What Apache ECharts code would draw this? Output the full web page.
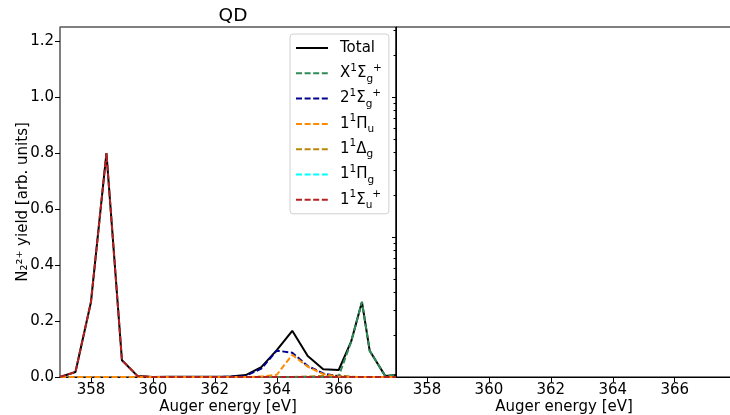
<!DOCTYPE html>
<html><head><meta charset="utf-8">
<script src="https://cdn.jsdelivr.net/npm/echarts@6/dist/echarts.min.js"></script>
<style>html,body{margin:0;padding:0;background:#fff}#c{width:730px;height:415px}</style>
</head><body><div id="c"></div>
<script>
const energies = [357.0,357.5,358.0,358.5,359.0,359.5,360.0,360.5,361.0,361.5,362.0,362.5,363.0,363.5,364.0,364.5,365.0,365.5,366.0,366.4,366.75,367.0,367.5,367.85];
const total   = [0,0.018,0.268,0.800,0.060,0.004,0,0.001,0.001,0.001,0.001,0.002,0.007,0.035,0.096,0.165,0.075,0.028,0.025,0.126,0.268,0.094,0.004,0.007];
const xSg     = [0,0,0,0,0,0,0,0,0,0,0,0,0,0,0,0,0,0,0.003,0.125,0.268,0.094,0.004,0.006];
const twoSg   = [0,0,0,0,0,0,0,0,0,0,0,0.001,0.004,0.030,0.094,0.087,0.039,0.013,0.002,0,0,0,0,0];
const oneProu = [0,0,0,0,0,0,0,0,0,0,0,0,0,0.002,0.008,0.079,0.037,0.010,0.002,0,0,0,0,0];
const oneDg   = [0,0,0,0,0,0,0,0,0,0,0,0,0,0,0,0,0.002,0.004,0.005,0.001,0,0,0,0];
const onePig  = [0,0,0,0,0,0,0,0,0,0,0,0,0,0,0,0,0,0.001,0.002,0,0,0,0,0];
const oneSu   = [0,0.018,0.268,0.800,0.060,0.004,0,0,0,0,0,0,0,0,0,0,0,0,0,0,0,0,0,0];
const xTicks = [358,360,362,364,366];
const yTicks = [0,0.2,0.4,0.6,0.8,1.0,1.2];
const logMajorTicks = [0.1,1];
const logMinorTicks = [0.02,0.03,0.04,0.05,0.06,0.07,0.08,0.09,0.2,0.3,0.4,0.5,0.6,0.7,0.8,0.9,2,3];
const seriesNames = ['Total','X1Sg+','21Sg+','11Pu','11Dg','11Pg','11Su+'];
const seriesLabels = [
  '{n|Total}',
  '{n|X}{sup|1}{n|Σ}{sub|g}{sup|+}',
  '{n|2}{sup|1}{n|Σ}{sub|g}{sup|+}',
  '{n|1}{sup|1}{n|Π}{sub|u}',
  '{n|1}{sup|1}{n|Δ}{sub|g}',
  '{n|1}{sup|1}{n|Π}{sub|g}',
  '{n|1}{sup|1}{n|Σ}{sub|u}{sup|+}'
];
const seriesValues = [total,xSg,twoSg,oneProu,oneDg,onePig,oneSu];
const seriesColors = ['#000000','#2e8b57','#00008b','#ff8c00','#b8860b','#00ffff','#b22222'];
const seriesZ = [2,6,7,8,5,4,9];

const FONT = 'DejaVu Sans';
const FS = 15;
const labelMap = {};
seriesNames.forEach((n,i)=>labelMap[n]=seriesLabels[i]);

const series = seriesNames.map((n,i)=>({
  name:n, type:'line', xAxisIndex:0, yAxisIndex:0,
  data: energies.map((e,j)=>[e, seriesValues[i][j]]),
  showSymbol:false, symbol:'none', animation:false, z: seriesZ[i],
  lineStyle:{color:seriesColors[i], width:2, type: i===0?'solid':[6,2.6]},
  itemStyle:{color:seriesColors[i]}
}));

const tickFmt = v=>v.toFixed(1);
const xAxisCommon = (gi)=>({
  type:'value', gridIndex:gi, min:357, max:367.85, splitLine:{show:false},
  axisLine:{show:true,onZero:false,lineStyle:{color:'#000',width:1}},
  axisTick:{show:true,length:5,lineStyle:{color:'#000'},customValues:xTicks},
  axisLabel:{color:'#000',fontSize:FS,fontFamily:FONT,margin:6,customValues:xTicks,formatter:v=>String(v)},
  name:'Auger energy [eV]', nameLocation:'middle', nameGap:23, nameMoveOverlap:false,
  nameTextStyle:{color:'#000',fontSize:FS,fontFamily:FONT}
});
const chart = echarts.init(document.getElementById('c'), null, {renderer:'canvas'});
chart.setOption({
  animation:false,
  textStyle:{fontFamily:FONT},
  title:{text:'QD', left:228, top:2, textAlign:'center', textStyle:{fontFamily:FONT,fontSize:18.5,fontWeight:'normal',color:'#000'}},
  grid:[
    {left:60, top:27, width:336, height:350, show:true, borderColor:'#000', borderWidth:1, backgroundColor:'transparent', outerBoundsMode:'none', containLabel:false},
    {left:396, top:27, width:336, height:350, show:true, borderColor:'#000', borderWidth:1, backgroundColor:'transparent', outerBoundsMode:'none', containLabel:false}
  ],
  legend:{
    orient:'vertical', left:290, top:34, padding:[3,7,3,5],
    backgroundColor:'rgba(255,255,255,0.8)', borderColor:'#d0d0d0', borderWidth:1, borderRadius:3,
    itemWidth:32, itemHeight:22, itemGap:3.3,
    itemStyle:{opacity:0},
    data: seriesNames,
    formatter: n=>labelMap[n],
    textStyle:{fontFamily:FONT, fontSize:FS, color:'#000', padding:[0,0,0,7], lineHeight:22,
      rich:{
        n:{fontFamily:FONT,fontSize:FS,color:'#000',lineHeight:22,verticalAlign:'middle'},
        sup:{fontFamily:FONT,fontSize:10.5,color:'#000',lineHeight:13,verticalAlign:'top'},
        sub:{fontFamily:FONT,fontSize:10.5,color:'#000',lineHeight:11,verticalAlign:'bottom'}
      }}
  },
  xAxis:[ xAxisCommon(0), xAxisCommon(1) ],
  yAxis:[
    {type:'value', gridIndex:0, min:0, max:1.25, splitLine:{show:false},
     axisLine:{show:true,onZero:false,lineStyle:{color:'#808080',width:1.5}},
     axisTick:{show:true,length:5,lineStyle:{color:'#000'},customValues:yTicks},
     axisLabel:{color:'#000',fontSize:FS,fontFamily:FONT,margin:6,customValues:yTicks,formatter:tickFmt},
     name:'N₂²⁺ yield [arb. units]', nameLocation:'middle', nameGap:29, nameRotate:90, nameMoveOverlap:false,
     nameTextStyle:{color:'#000',fontSize:FS,fontFamily:FONT}},
    {type:'log', gridIndex:1, position:'left', min:0.01, max:Math.pow(10,0.5), splitLine:{show:false},
     axisLine:{show:true,onZero:false,lineStyle:{color:'#000',width:1}},
     axisTick:{show:true,length:4,lineStyle:{color:'#000'},customValues:logMajorTicks},
     axisLabel:{show:false}},
    {type:'log', gridIndex:1, position:'left', offset:0, min:0.01, max:Math.pow(10,0.5), splitLine:{show:false},
     axisLine:{show:false},
     axisTick:{show:true,length:2.5,lineStyle:{color:'#000'},customValues:logMinorTicks},
     axisLabel:{show:false}}
  ],
  series: series
});
</script></body></html>
